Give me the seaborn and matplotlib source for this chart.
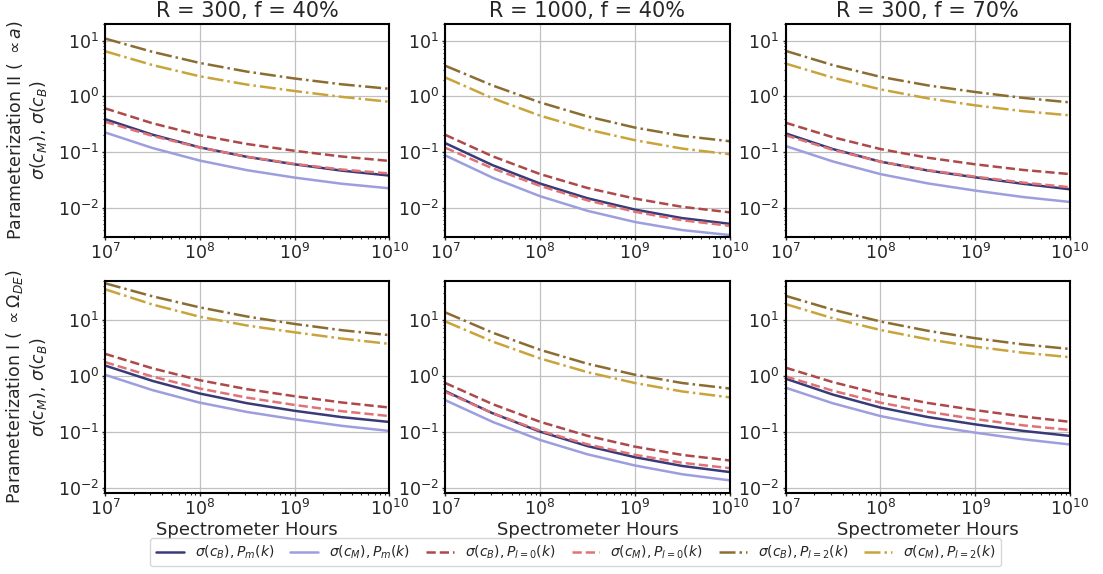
import matplotlib
matplotlib.use("Agg")
import matplotlib.pyplot as plt
import seaborn as sns
import pandas as pd

# spectrometer hours grid (half decades)
hours = [1e7, 3.16e7, 1e8, 3.16e8, 1e9, 3.16e9, 1e10]

titles = ["R = 300, f = 40%", "R = 1000, f = 40%", "R = 300, f = 70%"]
row_labels = [
    "Parameterization II ( $\\propto a$)\n$\\sigma(c_M)$, $\\sigma(c_B)$",
    "Parameterization I ( $\\propto \\Omega_{DE}$)\n$\\sigma(c_M)$, $\\sigma(c_B)$",
]
series_labels = [
    r"$\sigma(c_B), P_m(k)$",
    r"$\sigma(c_M), P_m(k)$",
    r"$\sigma(c_B), P_{l=0}(k)$",
    r"$\sigma(c_M), P_{l=0}(k)$",
    r"$\sigma(c_B), P_{l=2}(k)$",
    r"$\sigma(c_M), P_{l=2}(k)$",
]

# Parameterization II, R = 300, f = 40%
ii_300_40_B_m = [0.39, 0.205, 0.121, 0.0815, 0.060, 0.0461, 0.0376]
ii_300_40_M_m = [0.225, 0.118, 0.070, 0.047, 0.0346, 0.0268, 0.0222]
ii_300_40_B_l0 = [0.61, 0.329, 0.20, 0.139, 0.105, 0.0828, 0.069]
ii_300_40_M_l0 = [0.35, 0.195, 0.12, 0.082, 0.061, 0.0483, 0.041]
ii_300_40_B_l2 = [11.0, 6.34, 4.0, 2.79, 2.1, 1.65, 1.37]
ii_300_40_M_l2 = [6.5, 3.67, 2.3, 1.63, 1.25, 0.98, 0.80]

# Parameterization II, R = 1000, f = 40%
ii_1000_40_B_m = [0.144, 0.0578, 0.027, 0.0147, 0.0092, 0.00645, 0.0051]
ii_1000_40_M_m = [0.0866, 0.0344, 0.016, 0.00873, 0.0055, 0.00393, 0.0032]
ii_1000_40_B_l0 = [0.203, 0.0835, 0.040, 0.0225, 0.0145, 0.0103, 0.0082]
ii_1000_40_M_l0 = [0.119, 0.0506, 0.0245, 0.01346, 0.0084, 0.0059, 0.0047]
ii_1000_40_B_l2 = [3.56, 1.57, 0.78, 0.436, 0.275, 0.195, 0.156]
ii_1000_40_M_l2 = [2.19, 0.924, 0.45, 0.254, 0.163, 0.115, 0.091]

# Parameterization II, R = 300, f = 70%
ii_300_70_B_m = [0.216, 0.1127, 0.067, 0.0464, 0.035, 0.0268, 0.0213]
ii_300_70_M_m = [0.128, 0.0674, 0.040, 0.0272, 0.0202, 0.0155, 0.0126]
ii_300_70_B_l0 = [0.336, 0.184, 0.113, 0.0788, 0.060, 0.0476, 0.040]
ii_300_70_M_l0 = [0.20, 0.109, 0.067, 0.0471, 0.036, 0.0282, 0.0232]
ii_300_70_B_l2 = [6.6, 3.65, 2.25, 1.58, 1.2, 0.943, 0.78]
ii_300_70_M_l2 = [3.9, 2.17, 1.34, 0.923, 0.69, 0.544, 0.456]

# Parameterization I, R = 300, f = 40%
i_300_40_B_m = [1.52, 0.808, 0.48, 0.322, 0.236, 0.1817, 0.149]
i_300_40_M_m = [1.04, 0.553, 0.33, 0.2246, 0.166, 0.127, 0.103]
i_300_40_B_l0 = [2.46, 1.355, 0.83, 0.574, 0.43, 0.332, 0.27]
i_300_40_M_l0 = [1.75, 0.966, 0.59, 0.405, 0.30, 0.232, 0.19]
i_300_40_B_l2 = [44.8, 26.2, 16.6, 11.4, 8.4, 6.49, 5.3]
i_300_40_M_l2 = [35.0, 18.7, 11.3, 7.87, 5.96, 4.6, 3.7]

# Parameterization I, R = 1000, f = 40%
i_1000_40_B_m = [0.53, 0.213, 0.10, 0.0553, 0.035, 0.0244, 0.019]
i_1000_40_M_m = [0.365, 0.1494, 0.071, 0.0394, 0.0249, 0.01734, 0.0135]
i_1000_40_B_l0 = [0.74, 0.31, 0.15, 0.0843, 0.054, 0.0384, 0.0306]
i_1000_40_M_l0 = [0.51, 0.214, 0.104, 0.0594, 0.0386, 0.0278, 0.0223]
i_1000_40_B_l2 = [13.5, 5.86, 2.9, 1.635, 1.04, 0.74, 0.59]
i_1000_40_M_l2 = [9.3, 4.07, 2.03, 1.156, 0.74, 0.523, 0.41]

# Parameterization I, R = 300, f = 70%
i_300_70_B_m = [0.885, 0.459, 0.27, 0.1826, 0.135, 0.1035, 0.084]
i_300_70_M_m = [0.61, 0.321, 0.19, 0.1296, 0.096, 0.0734, 0.059]
i_300_70_B_l0 = [1.39, 0.766, 0.47, 0.326, 0.243, 0.187, 0.15]
i_300_70_M_l0 = [0.97, 0.538, 0.33, 0.2265, 0.168, 0.130, 0.107]
i_300_70_B_l2 = [26.7, 15.05, 9.3, 6.34, 4.67, 3.63, 3.0]
i_300_70_M_l2 = [19.0, 10.6, 6.55, 4.47, 3.3, 2.58, 2.14]

panels = [
    [
        [ii_300_40_B_m, ii_300_40_M_m, ii_300_40_B_l0, ii_300_40_M_l0, ii_300_40_B_l2, ii_300_40_M_l2],
        [ii_1000_40_B_m, ii_1000_40_M_m, ii_1000_40_B_l0, ii_1000_40_M_l0, ii_1000_40_B_l2, ii_1000_40_M_l2],
        [ii_300_70_B_m, ii_300_70_M_m, ii_300_70_B_l0, ii_300_70_M_l0, ii_300_70_B_l2, ii_300_70_M_l2],
    ],
    [
        [i_300_40_B_m, i_300_40_M_m, i_300_40_B_l0, i_300_40_M_l0, i_300_40_B_l2, i_300_40_M_l2],
        [i_1000_40_B_m, i_1000_40_M_m, i_1000_40_B_l0, i_1000_40_M_l0, i_1000_40_B_l2, i_1000_40_M_l2],
        [i_300_70_B_m, i_300_70_M_m, i_300_70_B_l0, i_300_70_M_l0, i_300_70_B_l2, i_300_70_M_l2],
    ],
]

colors = ["#393b79", "#9c9ede", "#ad494a", "#e07275", "#8c6d31", "#c9a43a"]
styles = ["-", "-", "--", "--", "-.", "-."]
ylims = [(3e-3, 20), (8e-3, 50)]

sns.set_style("ticks")
plt.rcParams.update({
    "font.family": ["DejaVu Sans"],
    "mathtext.fontset": "dejavusans",
    "axes.edgecolor": "black",
    "axes.linewidth": 1.5,
    "xtick.labelsize": 12.5,
    "ytick.labelsize": 12.5,
})

fig, axs = plt.subplots(2, 3, figsize=(11.03, 5.74), dpi=100)
fig.subplots_adjust(left=0.0952, right=0.970, top=0.958, bottom=0.141,
                    wspace=0.197, hspace=0.207)

for r in range(2):
    for c in range(3):
        ax = axs[r, c]
        for k, vals in enumerate(panels[r][c]):
            df = pd.DataFrame({"hours": hours, "sigma": vals})
            sns.lineplot(df, x="hours", y="sigma", ax=ax, color=colors[k],
                         linestyle=styles[k], lw=1.8, label=series_labels[k])
        ax.set_xscale("log")
        ax.set_yscale("log")
        ax.set_xlim(1e7, 1e10)
        ax.set_ylim(*ylims[r])
        ax.grid(True, which="major", color="#c0c0c0", lw=0.9)
        ax.tick_params(which="major", length=2.5, width=1, pad=2)
        ax.tick_params(which="minor", length=1.5, width=0.8)
        ax.set_ylabel("")
        ax.set_xlabel("Spectrometer Hours" if r == 1 else "", fontsize=13, labelpad=1)
        if r == 0:
            ax.set_title(titles[c], fontsize=15, pad=5)
        if c == 0:
            ax.set_ylabel(row_labels[r], fontsize=12.5, labelpad=6)
        ax.get_legend().remove()

handles, labels = axs[0, 0].get_legend_handles_labels()
fig.legend(handles, labels, loc="center", bbox_to_anchor=(0.522, 0.038),
           ncol=6, fontsize=10, frameon=True, columnspacing=1.15)

fig.savefig("out.png", dpi=100)
